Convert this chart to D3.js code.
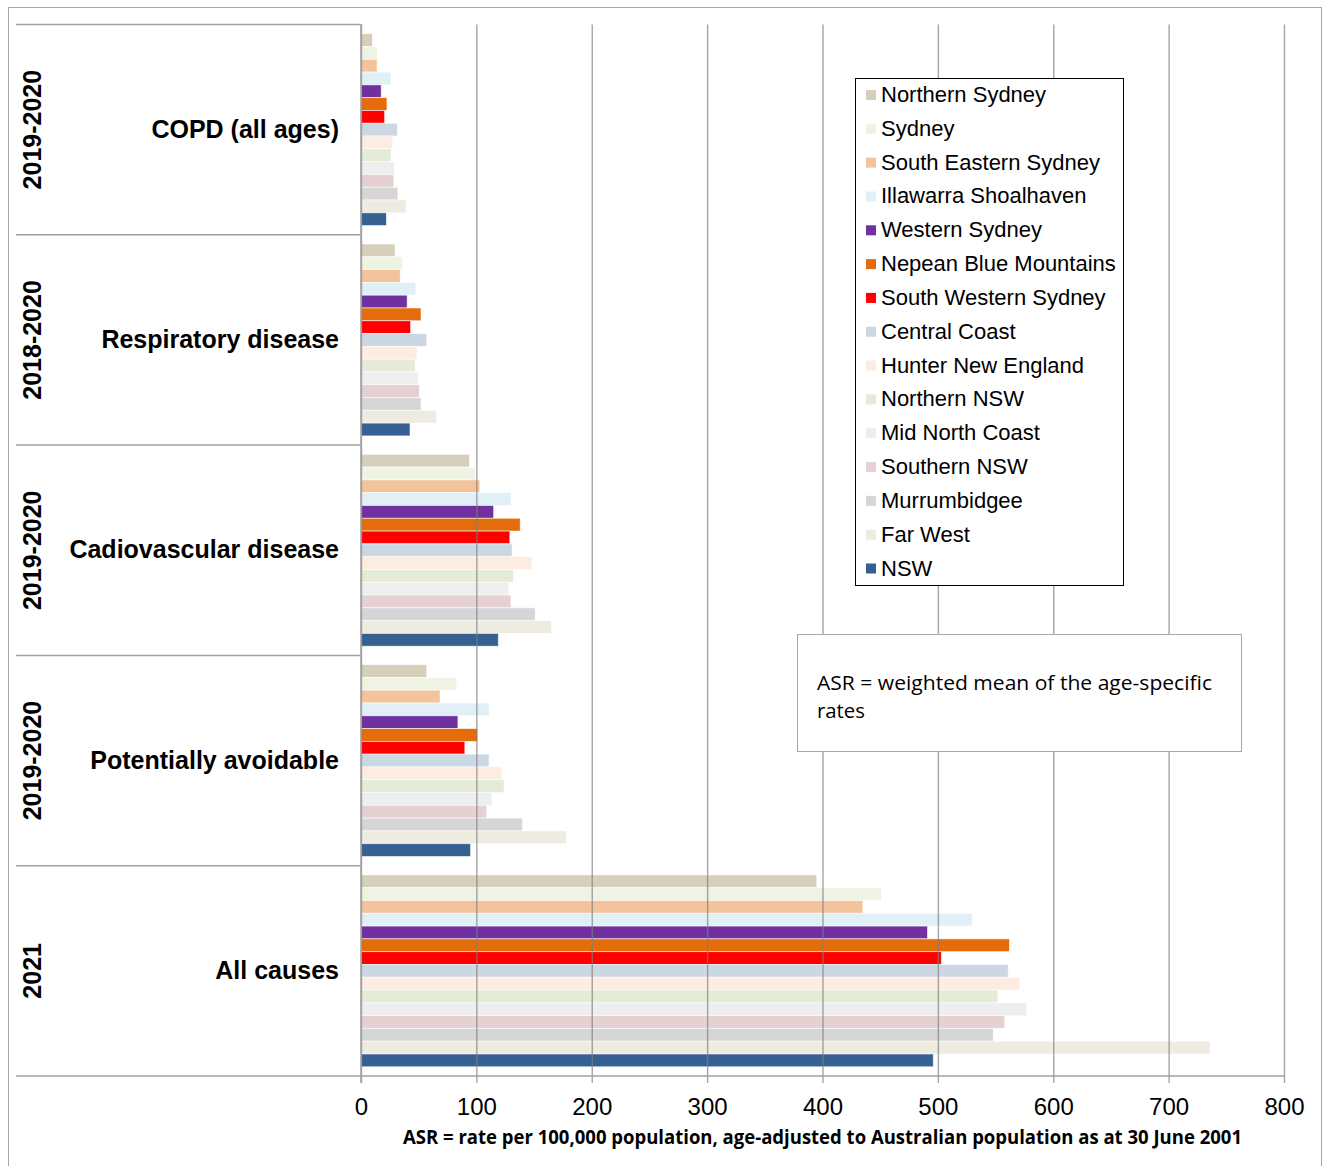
<!DOCTYPE html>
<html>
<head>
<meta charset="utf-8">
<script src="https://cdn.jsdelivr.net/npm/d3@7"></script>
<style>
  html, body { margin: 0; padding: 0; background: #fff; }
  svg { display: block; }
</style>
</head>
<body>
<svg id="chart" width="1324" height="1166"></svg>
<script>
// Local health districts, in bar order (top to bottom within each group)
const regions = [
  "Northern Sydney", "Sydney", "South Eastern Sydney", "Illawarra Shoalhaven",
  "Western Sydney", "Nepean Blue Mountains", "South Western Sydney", "Central Coast",
  "Hunter New England", "Northern NSW", "Mid North Coast", "Southern NSW",
  "Murrumbidgee", "Far West", "NSW"
];
const regionColors = [
  "#d6cfbb", "#eff3e4", "#f3c49c", "#e1f0f6",
  "#7030a0", "#e46c0a", "#ff0000", "#ccd7e4",
  "#fdece1", "#e4ecd7", "#eeeeee", "#e5d1d1",
  "#d6d6d6", "#eeebe1", "#366092"
];

// Condition groups and their reporting periods
const conditions = ["COPD (all ages)", "Respiratory disease", "Cadiovascular disease", "Potentially avoidable", "All causes"];
const periods = ["2019-2020", "2018-2020", "2019-2020", "2019-2020", "2021"];

// Age-standardised rates per 100,000, one value per region
const copd        = [10, 14, 14, 26, 17.5, 22.5, 20.5, 31.5, 27.5, 26, 29, 28.5, 32, 39, 22];
const respiratory = [29.5, 36, 34, 47.5, 40, 52, 43, 57, 48.5, 47, 49.5, 50.5, 52, 65.5, 42.5];
const cardio      = [94, 99, 103, 130, 115, 138, 129, 131, 148, 132, 128, 130, 151, 165, 119];
const avoidable   = [57, 83, 68.5, 111, 84, 101, 90, 111, 122, 124, 113.5, 109, 140, 178, 95];
const allCauses   = [395, 451, 435, 530, 491, 562, 503, 561, 571, 552, 577, 558, 548, 736, 496];
const seriesByCondition = [copd, respiratory, cardio, avoidable, allCauses];

const xTicks = [0, 100, 200, 300, 400, 500, 600, 700, 800];

const svg = d3.select("#chart");

// Outer frame
svg.append("rect")
  .attr("x", 8.5).attr("y", 7.5)
  .attr("width", 1313).attr("height", 1170)
  .attr("fill", "#fff").attr("stroke", "#a6a6a6").attr("stroke-width", 1);

const plot = { left: 361, right: 1284, top: 24.5, bottom: 1076 };

const x = d3.scaleLinear().domain([0, 800]).range([plot.left, plot.right]);
const yGroup = d3.scaleBand().domain(conditions).range([plot.top, plot.bottom]).padding(0);
const yBar = d3.scaleBand().domain(regions).range([0, yGroup.bandwidth()]).paddingInner(0).paddingOuter(0.72);

// Bars
const rows = [];
conditions.forEach((c, ci) => {
  seriesByCondition[ci].forEach((v, ri) => rows.push({ condition: c, region: regions[ri], value: v, color: regionColors[ri] }));
});

svg.append("g").selectAll("rect")
  .data(rows)
  .join("rect")
  .attr("x", x(0))
  .attr("y", d => yGroup(d.condition) + yBar(d.region))
  .attr("width", d => x(d.value) - x(0))
  .attr("height", yBar.bandwidth())
  .attr("fill", d => d.color)
  .attr("stroke", "#fff")
  .attr("stroke-opacity", 0.7)
  .attr("stroke-width", 0.8);

// Vertical gridlines (drawn over the bars) extending into tick marks
const xAxis = d3.axisBottom(x)
  .tickValues(xTicks)
  .tickSize(-(plot.bottom - plot.top))
  .tickFormat("");
const gridG = svg.append("g").attr("transform", `translate(0,${plot.bottom})`).call(xAxis);
gridG.select(".domain").remove();
gridG.selectAll(".tick line")
  .attr("stroke", "#7f7f7f").attr("stroke-opacity", 0.7).attr("stroke-width", 1.4)
  .attr("y1", 7);

// Tick labels
const labelAxis = d3.axisBottom(x).tickValues(xTicks).tickSize(0).tickPadding(0).tickFormat(d3.format("d"));
const labG = svg.append("g").attr("transform", `translate(0,${plot.bottom})`).call(labelAxis);
labG.select(".domain").remove();
labG.selectAll(".tick text")
  .attr("y", 39).attr("dy", null)
  .attr("font-family", "'Liberation Sans', Arial, sans-serif")
  .attr("font-size", 24)
  .attr("fill", "#000");

// Category axis: vertical line and group separators
const lineColor = "#a0a0a0";
svg.append("line")
  .attr("x1", plot.left).attr("x2", plot.left)
  .attr("y1", plot.top).attr("y2", plot.bottom + 7)
  .attr("stroke", lineColor).attr("stroke-width", 1.5);

const boundaries = conditions.map(c => yGroup(c)).concat([plot.bottom]);
svg.append("g").selectAll("line")
  .data(boundaries)
  .join("line")
  .attr("x1", 16)
  .attr("x2", (d, i) => i === boundaries.length - 1 ? plot.right : plot.left)
  .attr("y1", d => d).attr("y2", d => d)
  .attr("stroke", lineColor).attr("stroke-width", 1.5);

// Condition labels
svg.append("g").selectAll("text")
  .data(conditions)
  .join("text")
  .attr("x", 339)
  .attr("y", d => yGroup(d) + yGroup.bandwidth() / 2 + 8)
  .attr("text-anchor", "end")
  .attr("font-family", "'Liberation Sans', Arial, sans-serif")
  .attr("font-weight", "bold")
  .attr("font-size", 25)
  .attr("fill", "#000")
  .text(d => d);

// Period labels (rotated)
svg.append("g").selectAll("text")
  .data(conditions)
  .join("text")
  .attr("transform", (d, i) => `translate(41,${yGroup(d) + yGroup.bandwidth() / 2}) rotate(-90)`)
  .attr("text-anchor", "middle")
  .attr("font-family", "'Liberation Sans', Arial, sans-serif")
  .attr("font-weight", "bold")
  .attr("font-size", 25)
  .attr("fill", "#000")
  .text((d, i) => periods[i]);

// Axis title
svg.append("text")
  .attr("x", 403).attr("y", 1144)
  .attr("font-family", "'Open Sans', 'Liberation Sans', sans-serif")
  .attr("font-weight", "bold")
  .attr("font-size", 19)
  .attr("textLength", 839)
  .attr("lengthAdjust", "spacingAndGlyphs")
  .attr("fill", "#000")
  .text("ASR = rate per 100,000 population, age-adjusted to Australian population as at 30 June 2001");

// Legend
const legend = svg.append("g");
legend.append("rect")
  .attr("x", 855.5).attr("y", 78.5)
  .attr("width", 268).attr("height", 507)
  .attr("fill", "#fff").attr("stroke", "#000").attr("stroke-width", 1);
const legendY = d3.scalePoint().domain(regions).range([95, 568.5]);
const items = legend.selectAll("g.item")
  .data(regions)
  .join("g")
  .attr("class", "item")
  .attr("transform", d => `translate(0,${legendY(d)})`);
items.append("rect")
  .attr("x", 866).attr("y", -5)
  .attr("width", 10).attr("height", 10)
  .attr("fill", (d, i) => regionColors[i]);
items.append("text")
  .attr("x", 881).attr("y", 7)
  .attr("font-family", "'Liberation Sans', Arial, sans-serif")
  .attr("font-size", 22)
  .attr("fill", "#000")
  .text(d => d);

// Note box
const note = svg.append("g");
note.append("rect")
  .attr("x", 797.5).attr("y", 634.5)
  .attr("width", 444).attr("height", 117)
  .attr("fill", "#fff").attr("stroke", "#a6a6a6").attr("stroke-width", 1);
note.append("text")
  .attr("x", 817).attr("y", 690)
  .attr("font-family", "'Open Sans', sans-serif")
  .attr("font-size", 20)
  .attr("textLength", 395)
  .attr("lengthAdjust", "spacingAndGlyphs")
  .attr("fill", "#000")
  .text("ASR = weighted mean of the age-specific");
note.append("text")
  .attr("x", 817).attr("y", 718)
  .attr("font-family", "'Open Sans', sans-serif")
  .attr("font-size", 20)
  .attr("textLength", 48)
  .attr("lengthAdjust", "spacingAndGlyphs")
  .attr("fill", "#000")
  .text("rates");
</script>
</body>
</html>
